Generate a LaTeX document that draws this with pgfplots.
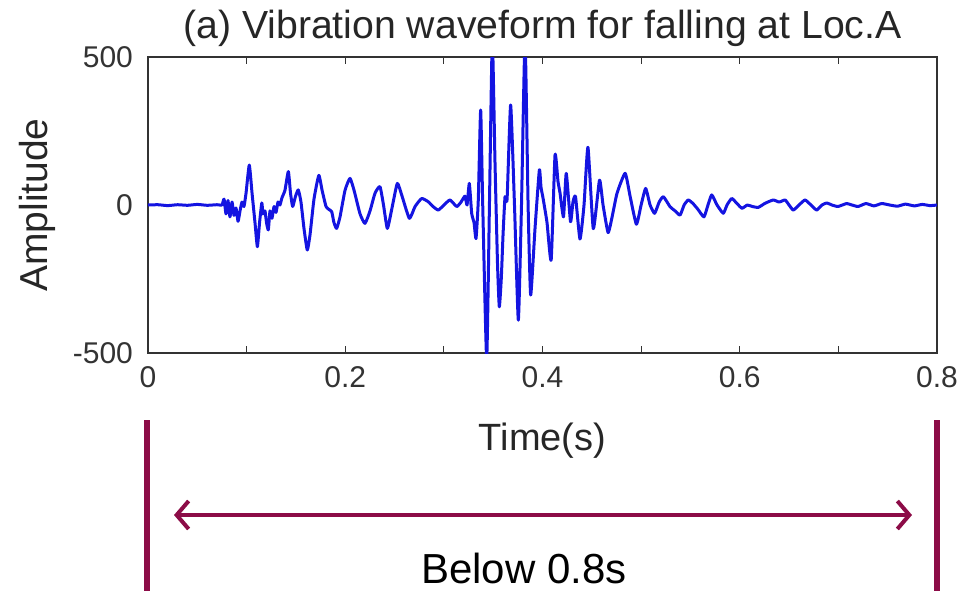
\documentclass[border=0pt]{standalone}
\usepackage{pgfplots}
\pgfplotsset{compat=1.18}
\usepackage{fontspec}
\setmainfont{Liberation Sans}
\usetikzlibrary{arrows.meta}
\definecolor{annot}{HTML}{8C0C47}
\definecolor{wave}{RGB}{20,20,225}
\begin{document}
\begin{tikzpicture}
\useasboundingbox (0,0) rectangle (480pt,-295pt);
\begin{axis}[
  at={(74pt,-176.5pt)}, anchor=south west,
  scale only axis, width=394.5pt, height=148pt,
  xmin=0, xmax=0.8, ymin=-500, ymax=500,
  xtick={0,0.1,0.2,0.3,0.4,0.5,0.6,0.7,0.8},
  xticklabels={0,,0.2,,0.4,,0.6,,0.8},
  ytick={-500,0,500},
  yticklabels={-500,0,500},
  tick align=inside, xtick pos=both, ytick pos=both,
  major tick length=3.5pt,
  axis line style={black!80, line width=0.6pt},
  every tick/.style={black!80, line width=0.6pt},
  ticklabel style={font=\fontsize{15}{17}\selectfont, text=black!80},
  xticklabel style={yshift=-3pt},
  yticklabel style={xshift=-4pt},
  title={(a) Vibration waveform for falling at Loc.A},
  title style={at={(0.5,1)}, anchor=base, yshift=3.5pt, font=\fontsize{19.6}{22}\selectfont, text=black!85},
  xlabel={Time(s)},
  xlabel style={font=\fontsize{19}{21}\selectfont, text=black!85, yshift=-11pt},
  ylabel={Amplitude},
  ylabel style={font=\fontsize{19.5}{21}\selectfont, text=black!85, yshift=2pt},
]
\addplot[wave, line width=1.5pt, line join=round, smooth, tension=0.3] coordinates {
(0,0) (0.010,1) (0.020,-2) (0.030,1) (0.040,-1) (0.050,2) (0.060,-1) (0.070,1) (0.0750,0)
(0.0771,20) (0.0791,-30) (0.0811,15) (0.0831,-40) (0.0852,10) (0.0872,-35) (0.0892,-10)
(0.0913,-55) (0.0933,-20) (0.0953,10) (0.0973,-5) (0.0994,40) (0.1027,135) (0.1055,40)
(0.1085,-60) (0.1109,-141) (0.1131,-60) (0.1154,7) (0.1166,-30) (0.1186,-20) (0.1202,-60)
(0.1220,-84) (0.1237,-20) (0.1257,-45) (0.1278,-5) (0.1298,-25) (0.1318,10) (0.1338,0)
(0.1359,25) (0.1389,50) (0.1423,113) (0.1445,40) (0.1467,-5) (0.1496,30) (0.1524,51)
(0.1551,10) (0.1582,-80) (0.1615,-152) (0.1643,-100) (0.1683,20) (0.1732,100) (0.1765,50)
(0.1805,-5) (0.1835,-15) (0.1863,-23) (0.1886,-60) (0.1913,-79) (0.1947,-40) (0.1998,50)
(0.2048,90) (0.2089,50) (0.2150,-30) (0.2200,-62) (0.2251,-20) (0.2302,40) (0.2352,62)
(0.2388,0) (0.2427,-79) (0.2474,-10) (0.2528,73) (0.2576,30) (0.2650,-45) (0.2708,-5)
(0.2775,22) (0.2842,11) (0.2890,-5) (0.2943,-17) (0.3001,0) (0.3062,17) (0.3130,-5)
(0.3174,10) (0.3214,30) (0.3235,0) (0.3258,73) (0.3282,-28) (0.3306,-60) (0.3326,-113)
(0.3349,17) (0.3373,321) (0.3394,0) (0.3434,-520) (0.3462,0) (0.3491,560) (0.3518,150)
(0.3544,-200) (0.3562,-344) (0.3582,-250) (0.3600,-100) (0.3620,28) (0.3641,20)
(0.3677,338) (0.3716,0) (0.3755,-389) (0.3787,0) (0.3823,560) (0.3854,0) (0.3880,-304)
(0.3924,-80) (0.3968,118) (0.3985,60) (0.4009,17) (0.4046,-60) (0.4088,-186) (0.4127,169)
(0.4157,80) (0.4178,40) (0.4213,-40) (0.4241,107) (0.4284,-56) (0.4309,10) (0.4335,28)
(0.4380,-115) (0.4421,0) (0.4461,195) (0.4515,-80) (0.4578,84) (0.4614,0) (0.4665,-93)
(0.4706,-40) (0.4756,40) (0.4838,107) (0.4888,30) (0.4952,-65) (0.5000,0) (0.5046,56)
(0.5091,0) (0.5137,-28) (0.5183,10) (0.5226,28) (0.5294,-6) (0.5345,-20) (0.5395,-34)
(0.5436,0) (0.5478,17) (0.5526,5) (0.5577,-15) (0.5637,-40) (0.5678,0) (0.5716,34)
(0.5770,0) (0.5833,-28) (0.5871,0) (0.5919,22) (0.5972,5) (0.6023,-11) (0.6077,0)
(0.6127,-5) (0.6188,-8) (0.6258,6) (0.6340,17) (0.6400,10) (0.6460,17) (0.6500,0)
(0.6543,-17) (0.6601,0) (0.6662,17) (0.6722,0) (0.6780,-17) (0.6834,0) (0.6882,7)
(0.6935,0) (0.6996,-5) (0.7084,5) (0.7138,0) (0.7200,-5) (0.7280,5) (0.7360,-3)
(0.7440,5) (0.7520,0) (0.7600,-4) (0.7680,3) (0.7770,-3) (0.7850,2) (0.7930,-2) (0.8000,0)
};
\end{axis}
\draw[annot, line width=2.6pt] (73.5pt,-210pt) -- (73.5pt,-296pt);
\draw[annot, line width=2.6pt] (468.5pt,-210pt) -- (468.5pt,-296pt);
\draw[annot, line width=2pt, {Straight Barb[length=6pt,width=14pt]}-{Straight Barb[length=6pt,width=14pt]}] (87pt,-257.5pt) -- (456pt,-257.5pt);
\node[anchor=base, font=\fontsize{21}{24}\selectfont, text=black] at (262pt,-291.5pt) {Below 0.8s};
\end{tikzpicture}
\end{document}
